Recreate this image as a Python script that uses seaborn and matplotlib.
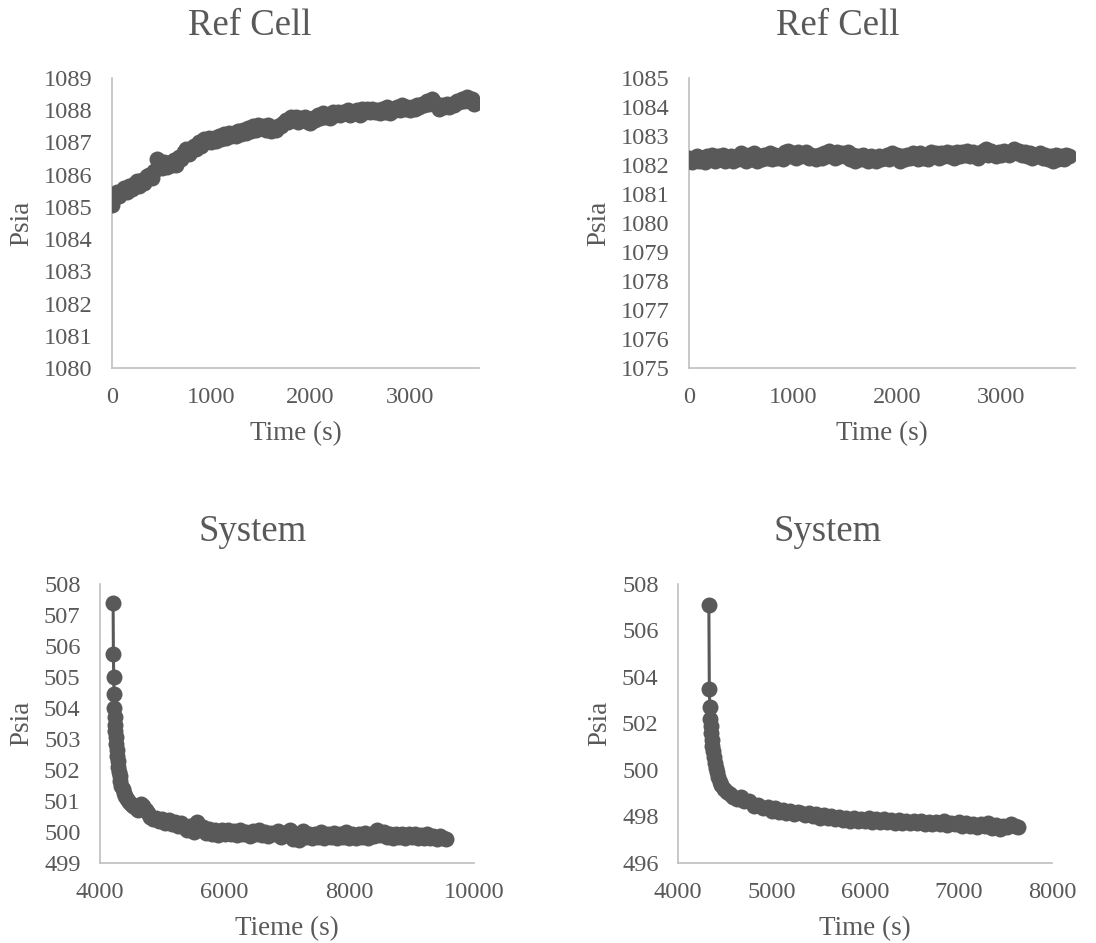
import matplotlib
matplotlib.use("Agg")
import matplotlib.pyplot as plt
import seaborn as sns
import pandas as pd

# ---- Reference cell, run 1 (logged every 25 s) ----
ref1_time = list(range(0, 3651, 25))
ref1_psia = [
    1085.05, 1085.3, 1085.45, 1085.35, 1085.5, 1085.6, 1085.45, 1085.65,
    1085.55, 1085.7, 1085.8, 1085.65, 1085.85, 1085.75, 1085.95, 1086.0,
    1085.9, 1086.1, 1086.5, 1086.3, 1086.2, 1086.4, 1086.25, 1086.35,
    1086.3, 1086.45, 1086.3, 1086.55, 1086.5, 1086.7, 1086.8, 1086.65,
    1086.75, 1086.9, 1086.8, 1087.0, 1086.9, 1087.1, 1087.0, 1087.15,
    1087.0, 1087.15, 1087.05, 1087.2, 1087.1, 1087.25, 1087.15, 1087.3,
    1087.2, 1087.3, 1087.2, 1087.35, 1087.25, 1087.4, 1087.3, 1087.45,
    1087.35, 1087.5, 1087.4, 1087.55, 1087.45, 1087.5, 1087.4, 1087.55,
    1087.35, 1087.45, 1087.4, 1087.5, 1087.5, 1087.6, 1087.7, 1087.65,
    1087.8, 1087.7, 1087.8, 1087.65, 1087.75, 1087.7, 1087.8, 1087.65,
    1087.6, 1087.75, 1087.7, 1087.85, 1087.75, 1087.9, 1087.8, 1087.85,
    1087.75, 1087.95, 1087.85, 1087.95, 1087.85, 1087.95, 1087.9, 1088.0,
    1087.85, 1087.95, 1087.9, 1088.0, 1087.85, 1088.05, 1087.95, 1088.05,
    1087.95, 1088.05, 1087.95, 1088.0, 1087.9, 1088.05, 1087.95, 1088.1,
    1087.9, 1088.05, 1088.0, 1088.1, 1088.0, 1088.15, 1088.05, 1088.1,
    1088.0, 1088.1, 1088.05, 1088.15, 1088.1, 1088.2, 1088.15, 1088.3,
    1088.2, 1088.35, 1088.25, 1088.15, 1088.05, 1088.15, 1088.1, 1088.2,
    1088.1, 1088.2, 1088.15, 1088.3, 1088.25, 1088.35, 1088.3, 1088.4,
    1088.3, 1088.35, 1088.2]

# ---- Reference cell, run 2 (logged every 25 s) ----
ref2_time = list(range(0, 3651, 25))
ref2_psia = [
    1082.25, 1082.1, 1082.2, 1082.3, 1082.15, 1082.25, 1082.1, 1082.3,
    1082.2, 1082.35, 1082.15, 1082.3, 1082.2, 1082.35, 1082.15, 1082.25,
    1082.3, 1082.15, 1082.25, 1082.2, 1082.4, 1082.25, 1082.15, 1082.35,
    1082.2, 1082.4, 1082.15, 1082.3, 1082.2, 1082.35, 1082.25, 1082.4,
    1082.2, 1082.35, 1082.25, 1082.3, 1082.2, 1082.45, 1082.5, 1082.3,
    1082.4, 1082.25, 1082.45, 1082.3, 1082.35, 1082.45, 1082.25, 1082.35,
    1082.3, 1082.2, 1082.35, 1082.25, 1082.4, 1082.3, 1082.5, 1082.35,
    1082.25, 1082.45, 1082.3, 1082.4, 1082.3, 1082.45, 1082.2, 1082.35,
    1082.15, 1082.3, 1082.2, 1082.35, 1082.25, 1082.15, 1082.3, 1082.2,
    1082.15, 1082.3, 1082.2, 1082.25, 1082.35, 1082.2, 1082.4, 1082.3,
    1082.35, 1082.15, 1082.3, 1082.2, 1082.35, 1082.25, 1082.4, 1082.3,
    1082.2, 1082.4, 1082.25, 1082.35, 1082.2, 1082.45, 1082.3, 1082.4,
    1082.25, 1082.4, 1082.3, 1082.45, 1082.3, 1082.4, 1082.25, 1082.45,
    1082.3, 1082.45, 1082.35, 1082.5, 1082.3, 1082.45, 1082.35, 1082.25,
    1082.4, 1082.5, 1082.55, 1082.35, 1082.5, 1082.4, 1082.3, 1082.45,
    1082.35, 1082.5, 1082.4, 1082.35, 1082.45, 1082.55, 1082.4, 1082.5,
    1082.35, 1082.45, 1082.3, 1082.4, 1082.25, 1082.35, 1082.3, 1082.4,
    1082.25, 1082.35, 1082.2, 1082.3, 1082.15, 1082.35, 1082.2, 1082.3,
    1082.2, 1082.35, 1082.3]

# ---- System, run 1: fast logging during the drop, then every 50 s ----
sys1_time = [4210, 4215, 4220, 4225, 4230, 4235, 4240, 4245, 4250, 4258, 4266, 4274, 4282,
             4292, 4302, 4314, 4328, 4344, 4362, 4382, 4405, 4430, 4460, 4495, 4530, 4570,
             4610, 4650, 4690, 4730, 4770, 4810, 4850] + list(range(4900, 9551, 50))
sys1_psia = [
    507.4, 505.75, 505.0, 504.45, 504.0, 503.7, 503.45, 503.25, 503.05, 502.85,
    502.65, 502.45, 502.28, 502.1, 501.95, 501.8, 501.65, 501.5, 501.38, 501.26,
    501.15, 501.05, 500.97, 500.9, 500.85, 500.78, 500.72, 500.9, 500.85, 500.72,
    500.6, 500.5, 500.42,
    500.45, 500.35, 500.42, 500.3, 500.38, 500.25, 500.33, 500.2, 500.28, 500.15,
    500.05, 500.2, 500.0, 500.32, 500.1, 500.15, 499.98, 500.1, 499.95, 500.05,
    499.9, 500.05, 499.95, 500.08, 499.92, 500.02, 499.9, 500.05, 499.95, 500.0,
    499.88, 500.02, 499.92, 500.05, 499.9, 500.0, 499.88, 499.98, 499.92, 500.02,
    499.85, 499.98, 499.9, 500.05, 499.78, 499.92, 499.75, 500.02, 499.85, 499.95,
    499.82, 499.95, 499.85, 500.0, 499.8, 499.92, 499.85, 499.98, 499.8, 499.92,
    499.85, 500.0, 499.8, 499.95, 499.82, 499.92, 499.85, 499.98, 499.8, 499.95,
    499.88, 500.05, 499.9, 500.0, 499.85, 499.92, 499.8, 499.95, 499.85, 499.92,
    499.8, 499.95, 499.85, 499.92, 499.8, 499.9, 499.82, 499.95, 499.8, 499.88,
    499.78, 499.88, 499.8, 499.78]

# ---- System, run 2: fast logging during the drop, then every 40 s ----
sys2_time = [4330, 4335, 4340, 4345, 4350, 4356, 4362, 4368, 4375, 4383, 4392, 4402, 4414,
             4428, 4445, 4465, 4490, 4520, 4555, 4590, 4630, 4670, 4710, 4760, 4810, 4860,
             4910] + list(range(4960, 7641, 40))
sys2_psia = [
    507.1, 503.5, 502.7, 502.2, 501.9, 501.6, 501.3, 501.05, 500.8, 500.55, 500.3,
    500.1, 499.9, 499.7, 499.5, 499.35, 499.2, 499.05, 498.95, 498.85, 498.75, 498.85,
    498.65, 498.65, 498.45, 498.5, 498.35,
    498.4, 498.25, 498.35, 498.2, 498.3, 498.15, 498.25, 498.1, 498.2, 498.15,
    498.05, 498.15, 498.0, 498.1, 497.95, 498.08, 497.92, 498.02, 497.88, 497.98,
    497.85, 497.95, 497.82, 497.92, 497.8, 497.9, 497.82, 497.92, 497.78, 497.88,
    497.78, 497.88, 497.75, 497.86, 497.72, 497.84, 497.74, 497.82, 497.7, 497.8,
    497.7, 497.8, 497.68, 497.78, 497.66, 497.76, 497.68, 497.8, 497.64, 497.74,
    497.66, 497.78, 497.6, 497.72, 497.58, 497.68, 497.56, 497.66, 497.58, 497.72,
    497.5, 497.64, 497.48, 497.6, 497.55, 497.66, 497.58, 497.55]

MARK = "#595959"
TEXT = "#595959"
SPINE = "#bfbfbf"

sns.set_theme(style="white")
plt.rcParams["font.family"] = ["Liberation Serif", "DejaVu Serif"]
plt.rcParams["text.color"] = TEXT

fig = plt.figure(figsize=(10.96, 9.43), dpi=100)
W, H = 1096, 943


def add_axes(left, top, right, bottom):
    return fig.add_axes([left / W, 1 - bottom / H, (right - left) / W, (bottom - top) / H])


panels = [
    dict(box=(112, 78, 479, 368), t=ref1_time, p=ref1_psia, xlim=(0, 3700), xticks=[0, 1000, 2000, 3000],
         ylim=(1080, 1089), yticks=list(range(1080, 1090)), title="Ref Cell", title_xy=(250, 26),
         xlabel="Time (s)"),
    dict(box=(689, 78, 1075, 368), t=ref2_time, p=ref2_psia, xlim=(0, 3710), xticks=[0, 1000, 2000, 3000],
         ylim=(1075, 1085), yticks=list(range(1075, 1086)), title="Ref Cell", title_xy=(838, 26),
         xlabel="Time (s)"),
    dict(box=(100, 584, 474, 863), t=sys1_time, p=sys1_psia, xlim=(4000, 10000),
         xticks=[4000, 6000, 8000, 10000], ylim=(499, 508), yticks=list(range(499, 509)),
         title="System", title_xy=(253, 532), xlabel="Tieme (s)"),
    dict(box=(678, 584, 1052, 863), t=sys2_time, p=sys2_psia, xlim=(4000, 8000),
         xticks=[4000, 5000, 6000, 7000, 8000], ylim=(496, 508), yticks=list(range(496, 509, 2)),
         title="System", title_xy=(828, 532), xlabel="Time (s)"),
]

for pnl in panels:
    ax = add_axes(*pnl["box"])
    df = pd.DataFrame({"t": pnl["t"], "p": pnl["p"]})
    sns.lineplot(data=df, x="t", y="p", ax=ax, color=MARK, linewidth=2.2, marker="o",
                 markersize=11.5, markeredgewidth=0, estimator=None, sort=False, zorder=3)
    ax.set_xlim(*pnl["xlim"])
    ax.set_ylim(*pnl["ylim"])
    ax.set_xticks(pnl["xticks"])
    ax.set_yticks(pnl["yticks"])
    ax.tick_params(axis="both", length=0, labelsize=17.6, colors=TEXT)
    ax.tick_params(axis="x", pad=14)
    ax.tick_params(axis="y", pad=14)
    sns.despine(ax=ax)
    for side in ("left", "bottom"):
        ax.spines[side].set_color(SPINE)
        ax.spines[side].set_linewidth(1.2)
    ax.set_xlabel(pnl["xlabel"], fontsize=19.5, color=TEXT, labelpad=9)
    ax.set_ylabel("Psia", fontsize=19.5, color=TEXT, labelpad=7)
    ax.grid(False)
    tx, ty = pnl["title_xy"]
    fig.text(tx / W, 1 - ty / H, pnl["title"], fontsize=26.5, color=TEXT, ha="center", va="center")

fig.savefig("out.png", dpi=100, facecolor="white")
